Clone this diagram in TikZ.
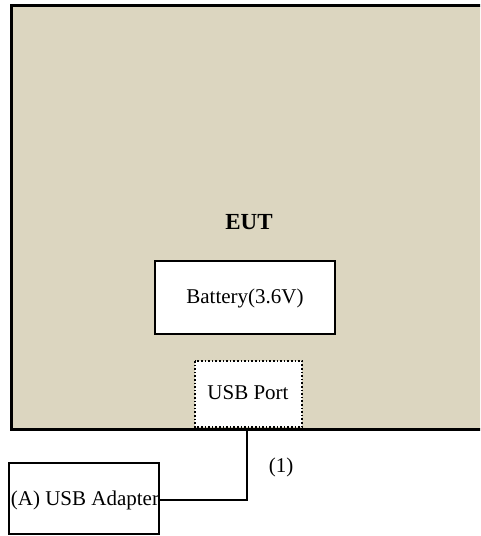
\documentclass[tikz,border=0pt]{standalone}
\usepackage{fontspec}
\setmainfont{Liberation Serif}
\definecolor{eutbg}{RGB}{220,214,192}
\begin{document}
\begin{tikzpicture}[x=1pt,y=-1pt,
  lbl/.style={font=\fontsize{21}{24}\selectfont, inner sep=0pt},
  solidbox/.style={draw=black, line width=2.2pt, fill=white},
  portbox/.style={draw=black, line width=1.6pt, dotted, fill=white},
  wire/.style={draw=black, line width=2pt}]
\useasboundingbox (0,0) rectangle (480,536);
\clip (0,0) rectangle (480,536);
\fill[white] (0,0) rectangle (480,536);
\draw[line width=3pt, fill=eutbg] (11.5,5.5) rectangle (500,429.5);
\node[font=\bfseries\fontsize{23}{26}\selectfont, inner sep=0pt] (eut) at (249,222) {EUT};
\draw[solidbox] (155,261) rectangle (335,334);
\node[lbl] (bat) at (245,298) {Battery(3.6V)};
\draw[portbox] (195,361) rectangle (302,427);
\node[lbl] (port) at (248,393) {USB Port};
\coordinate (portbot) at (247,430);
\draw[line width=2.2pt] (9,463) rectangle (159,534);
\node[lbl] (adapter) at (85,500) {(A) USB Adapter};
\coordinate (adright) at (159,500);
\draw[wire] (adright) -| (portbot);
\node[lbl] (one) at (281,467) {(1)};
\end{tikzpicture}
\end{document}
